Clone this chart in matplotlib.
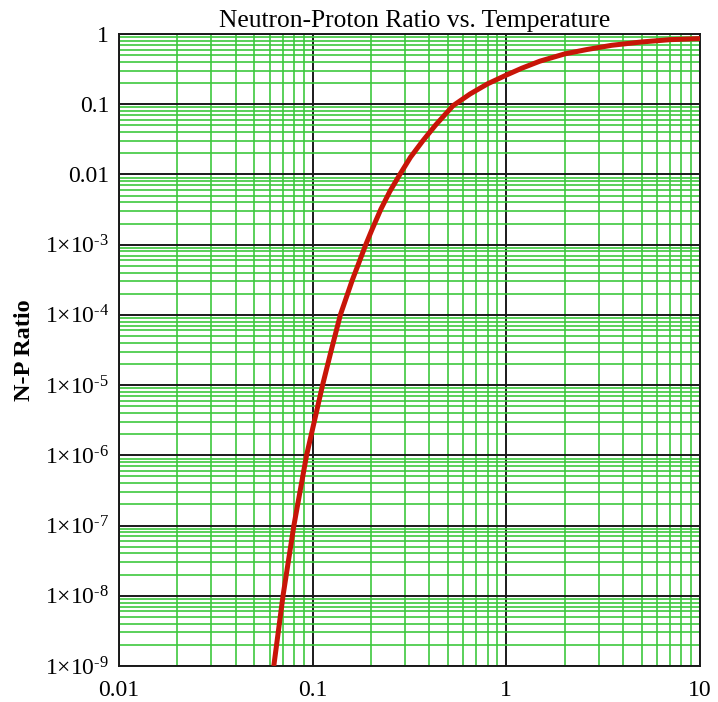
import matplotlib
matplotlib.use("Agg")
import matplotlib.pyplot as plt
from matplotlib.ticker import LogLocator, NullFormatter

plt.rcParams['font.family'] = ['Liberation Serif', 'DejaVu Serif']
plt.rcParams['mathtext.fontset'] = 'custom'
plt.rcParams['mathtext.rm'] = 'Liberation Serif'

# temperature vs n/p ratio
temperature = [0.063, 0.0703, 0.080, 0.093, 0.100, 0.1125, 0.125, 0.139, 0.160,
               0.188, 0.2017, 0.225, 0.25, 0.282, 0.32, 0.37, 0.43, 0.53, 0.65,
               0.80, 1.0, 1.2, 1.49, 2.0, 2.6, 3.5, 5.0, 7.0, 10.0]
np_ratio = [1e-9, 1e-8, 1e-7, 1e-6, 2.4e-6, 1e-5, 3.2e-5, 1e-4, 3.1e-4,
            1e-3, 1.6e-3, 3.2e-3, 5.7e-3, 0.01, 0.0176, 0.030, 0.050, 0.095, 0.14,
            0.195, 0.26, 0.325, 0.41, 0.52, 0.60, 0.69, 0.77, 0.83, 0.86]

x_ticks = [0.01, 0.1, 1, 10]
x_labels = ['0.01', '0.1', '1', '10']
y_ticks = [1e-9, 1e-8, 1e-7, 1e-6, 1e-5, 1e-4, 1e-3, 0.01, 0.1, 1]
y_labels = [r'$\mathregular{1{\times}10^{\text{-}9}}$', r'$\mathregular{1{\times}10^{\text{-}8}}$',
            r'$\mathregular{1{\times}10^{\text{-}7}}$', r'$\mathregular{1{\times}10^{\text{-}6}}$',
            r'$\mathregular{1{\times}10^{\text{-}5}}$', r'$\mathregular{1{\times}10^{\text{-}4}}$',
            r'$\mathregular{1{\times}10^{\text{-}3}}$', '0.01', '0.1', '1']

fig = plt.figure(figsize=(7.18, 7.02), dpi=100)
ax = fig.add_axes([0.1657, 0.0513, 0.9750 - 0.1657, 0.9516 - 0.0513])

ax.set_xscale('log')
ax.set_yscale('log')
ax.set_xlim(0.01, 10)
ax.set_ylim(1e-9, 1)

ax.xaxis.set_minor_locator(LogLocator(base=10, subs=range(2, 10)))
ax.yaxis.set_minor_locator(LogLocator(base=10, subs=range(2, 10), numticks=30))
ax.xaxis.set_minor_formatter(NullFormatter())
ax.yaxis.set_minor_formatter(NullFormatter())

ax.grid(which='minor', color='#3ec83e', linewidth=1.2)
ax.grid(which='major', color='#1a1a1a', linewidth=1.4)
ax.set_axisbelow(True)

ax.plot(temperature, np_ratio, color='#c81508', linewidth=3.6, zorder=3,
        solid_capstyle='butt')

ax.set_xticks(x_ticks)
ax.set_xticklabels(x_labels)
ax.set_yticks(y_ticks)
ax.set_yticklabels(y_labels)
ax.tick_params(which='both', length=0, labelsize=17)
ax.tick_params(axis='x', pad=10)
ax.tick_params(axis='y', pad=7)

for s in ax.spines.values():
    s.set_color('#1a1a1a')
    s.set_linewidth(1.4)

ax.set_title('Neutron-Proton Ratio vs. Temperature', fontsize=18.4, pad=5, x=0.508)
ax.set_ylabel('N-P Ratio', fontsize=17.5, fontweight='bold')
ax.yaxis.set_label_coords(-0.145, 0.5)

fig.savefig('out.png', dpi=100)
